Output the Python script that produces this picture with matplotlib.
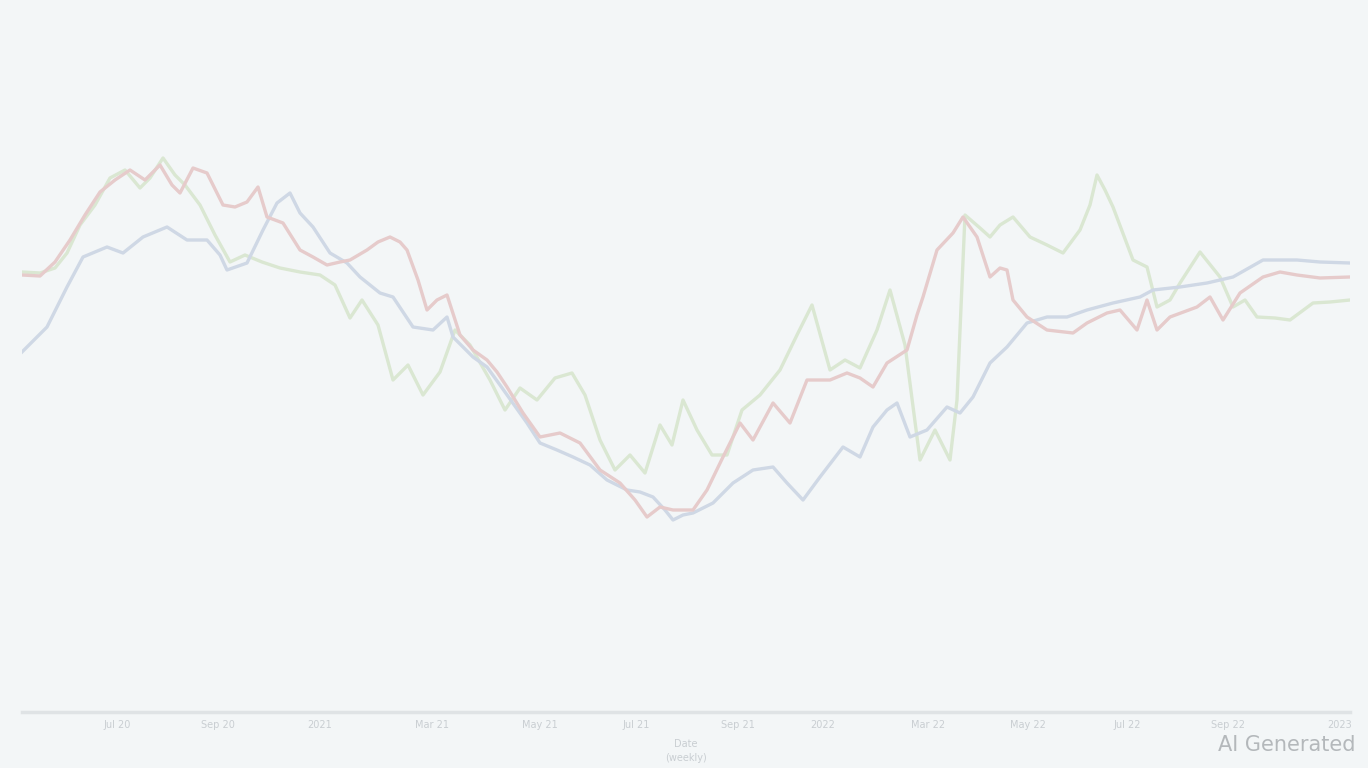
import matplotlib
matplotlib.use("Agg")
import matplotlib.pyplot as plt

# ---- data ----
green_days = [0,18,33,45,58,73,88,103,118,128,141,153,163,178,193,208,223,240,258,278,
              298,313,328,340,356,371,386,401,418,433,448,468,483,498,515,533,550,563,578,593,
              608,623,638,650,661,675,690,705,720,738,758,775,790,808,823,838,855,868,883,898,
              913,928,935,943,958,968,978,991,1008,1025,1041,1058,1068,1075,1083,1091,1111,1125,1135,1148,
              1158,1178,1198,1211,1223,1235,1253,1268,1291,1308,1328]
green_vals = [440,439,444,459,487,507,534,542,524,534,554,537,527,507,477,450,457,450,444,440,
              437,427,394,412,387,332,347,317,340,382,367,332,302,324,312,334,339,317,272,242,
              257,239,287,267,312,282,257,257,302,317,342,377,407,342,352,344,382,422,367,252,
              282,252,312,497,484,475,487,495,475,467,459,482,507,537,522,505,452,445,405,412,
              429,460,435,405,412,395,394,392,409,410,412]

red_days = [0,18,33,48,63,78,93,108,123,138,150,158,171,185,201,213,225,236,245,261,
            278,291,305,318,328,345,356,368,378,385,396,405,415,425,438,451,465,475,485,501,
            518,538,558,578,598,613,625,638,651,671,685,701,718,731,751,768,785,808,825,838,
            851,865,885,895,901,915,931,941,955,968,978,985,991,1005,1025,1051,1065,1085,1098,1115,
            1125,1135,1148,1175,1188,1201,1218,1241,1258,1275,1298,1328]
red_vals = [437,436,450,472,497,520,532,542,532,547,527,519,544,539,507,505,510,525,495,489,
            462,455,447,450,452,462,470,475,470,462,432,402,412,417,377,362,352,340,325,299,
            275,279,269,242,229,212,195,205,202,202,222,255,289,272,309,289,332,332,339,334,
            325,349,362,397,415,462,479,495,475,435,444,442,412,395,382,379,389,399,402,382,
            412,382,395,405,415,392,419,435,440,437,434,435]

blue_days = [0,25,45,61,85,101,121,145,165,185,198,205,225,241,255,268,278,291,308,
             325,338,358,371,391,411,425,431,451,465,478,505,518,535,551,568,585,605,618,631,
             643,651,661,671,691,711,731,751,765,781,798,821,838,851,865,875,888,905,925,938,
             951,968,985,1005,1025,1045,1065,1091,1118,1131,1158,1185,1211,1241,1275,1298,1328]
blue_vals = [360,385,425,455,465,459,475,485,472,472,457,442,449,482,509,519,499,485,459,
             449,435,419,415,385,382,395,375,355,345,327,289,269,262,255,247,232,222,220,215,
             202,192,197,199,209,229,242,245,229,212,235,265,255,285,302,309,275,282,305,299,
             315,349,365,389,395,395,402,409,415,422,425,429,435,452,452,450,449]

tick_days = [95,196,298,410,518,614,716,801,906,1006,1105,1206,1318]
tick_labels = ["Jul 20","Sep 20","2021","Mar 21","May 21","Jul 21","Sep 21",
               "2022","Mar 22","May 22","Jul 22","Sep 22","2023"]

BG = "#f3f6f7"
fig = plt.figure(figsize=(13.68, 7.68), dpi=100, facecolor=BG)
ax = fig.add_axes([22/1368, 1-712/768, (1350-22)/1368, (712-20)/768])
ax.set_facecolor(BG)

ax.plot(green_days, green_vals, color="#dae7d2", lw=2.4, solid_joinstyle="round", zorder=2)
ax.plot(blue_days, blue_vals, color="#cfd8e5", lw=2.4, solid_joinstyle="round", zorder=3)
ax.plot(red_days, red_vals, color="#e6cbcb", lw=2.4, solid_joinstyle="round", zorder=4)

ax.set_xlim(0, 1328)
ax.set_ylim(0, 692)
for s in ["top", "right", "left"]:
    ax.spines[s].set_visible(False)
ax.spines["bottom"].set_color("#dfe3e5")
ax.spines["bottom"].set_linewidth(2.5)
ax.set_yticks([])
ax.set_xticks(tick_days)
ax.set_xticklabels(tick_labels, fontsize=7, color="#c9ced2")
ax.tick_params(axis="x", length=0, pad=6)
ax.set_xlabel("Date\n(weekly)", fontsize=7, color="#c9ced2", labelpad=6, linespacing=1.6)

fig.text(1356/1368, 1-745/768, "AI Generated", ha="right", va="center",
         fontsize=15, color="#b4b8bb")

fig.savefig("out.png", dpi=100, facecolor=BG)
